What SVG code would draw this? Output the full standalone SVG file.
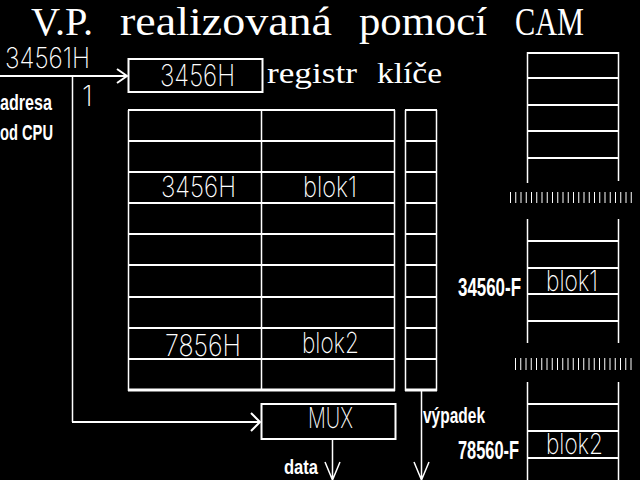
<svg xmlns="http://www.w3.org/2000/svg" width="640" height="480" viewBox="0 0 640 480">
<style>
.bg{fill:#000}
.ln{stroke:#fff;fill:none}
.h{stroke-width:2}
.v{stroke-width:1.5}
.thin{font-family:Inter,"DejaVu Sans",sans-serif;font-weight:200;fill:#fff}
.nar{font-family:"Liberation Sans",Arial,sans-serif;font-weight:bold;fill:#fff}
.ser{font-family:"Liberation Serif","Times New Roman",serif;fill:#fff}
</style>
<rect class="bg" x="0" y="0" width="640" height="480"/>
<g id="title">
<text class="ser" x="31" y="35" font-size="39" textLength="62" lengthAdjust="spacingAndGlyphs">V.P.</text>
<text class="ser" x="120" y="35" font-size="39" textLength="212" lengthAdjust="spacingAndGlyphs">realizovaná</text>
<text class="ser" x="359" y="35" font-size="39" textLength="128" lengthAdjust="spacingAndGlyphs">pomocí</text>
<text class="ser" x="515" y="35" font-size="39" textLength="69" lengthAdjust="spacingAndGlyphs">CAM</text>
</g>
<g id="input-labels">
<text class="thin" x="5" y="68" font-size="28" textLength="85" lengthAdjust="spacingAndGlyphs">34561H</text>
<text class="thin" x="82" y="106" font-size="28">1</text>
<text class="nar" x="0" y="110" font-size="22" textLength="52" lengthAdjust="spacingAndGlyphs">adresa</text>
<text class="nar" x="0" y="140" font-size="22" textLength="53" lengthAdjust="spacingAndGlyphs">od CPU</text>
</g>
<g id="register">
<rect class="ln" x="128.5" y="59" width="134" height="33" stroke-width="2"/>
<text class="thin" x="160" y="86" font-size="30" textLength="75" lengthAdjust="spacingAndGlyphs">3456H</text>
<text class="ser" x="267" y="83" font-size="30" textLength="90" lengthAdjust="spacingAndGlyphs">registr</text>
<text class="ser" x="377" y="83" font-size="30" textLength="65" lengthAdjust="spacingAndGlyphs">klíče</text>
</g>
<g id="cam-table">
<path class="ln h" d="M128 110H395M128 141H395M128 172H395M128 203H395M128 234H395M128 265H395M128 297H395M128 328H395M128 359H395"/>
<path class="ln" stroke-width="3" d="M128 390H395"/>
<path class="ln v" d="M128.5 110V391M261.5 110V391M394.5 110V391"/>
<text class="thin" x="161" y="197" font-size="29" textLength="75" lengthAdjust="spacingAndGlyphs">3456H</text>
<text class="thin" x="303" y="197" font-size="29" textLength="54" lengthAdjust="spacingAndGlyphs">blok1</text>
<text class="thin" x="165" y="356" font-size="30" textLength="76" lengthAdjust="spacingAndGlyphs">7856H</text>
<text class="thin" x="302" y="353" font-size="29" textLength="57" lengthAdjust="spacingAndGlyphs">blok2</text>
</g>
<g id="valid-column">
<path class="ln h" d="M405 110H437M405 141H437M405 172H437M405 203H437M405 234H437M405 265H437M405 297H437M405 328H437M405 359H437"/>
<path class="ln" stroke-width="3" d="M405 390H437"/>
<path class="ln v" d="M405.5 110V391M436.5 110V391"/>
</g>
<g id="mux">
<rect class="ln" x="261.5" y="404" width="134" height="35" stroke-width="2"/>
<text class="thin" x="308" y="428" font-size="29" textLength="45" lengthAdjust="spacingAndGlyphs">MUX</text>
</g>
<g id="memory">
<path class="ln v" d="M527.5 52V183M618.5 52V181M527.5 219V343M618.5 219V343M527.5 382V480M618.5 382V480"/>
<path class="ln h" d="M527 53H619M527 78H619M527 105H619M527 131H619M527 158H619M527 241H619M527 268H619M527 294H619M527 321H619M527 404H619M527 431H619M527 458H619"/>
<path class="ln" stroke-width="11" stroke-dasharray="1 4.25" d="M510 197.5H633"/>
<path class="ln" stroke-width="12" stroke-dasharray="1 4.25" d="M515 364H633"/>
<text class="thin" x="546" y="291" font-size="29" textLength="52" lengthAdjust="spacingAndGlyphs">blok1</text>
<text class="thin" x="546" y="454" font-size="28" textLength="57" lengthAdjust="spacingAndGlyphs">blok2</text>
<text class="nar" x="458" y="296" font-size="25" textLength="63" lengthAdjust="spacingAndGlyphs">34560-F</text>
<text class="nar" x="458" y="459" font-size="25" textLength="61" lengthAdjust="spacingAndGlyphs">78560-F</text>
</g>
<g id="connectors">
<path class="ln" stroke-width="2" d="M0 76H127"/>
<path class="ln" stroke-width="2" d="M117 69L127 76L117 83"/>
<path class="ln v" d="M72.5 76V422"/>
<path class="ln" stroke-width="2" d="M72 422H260"/>
<path class="ln" stroke-width="2" d="M251 413L260 422L251 431"/>
<path class="ln v" d="M332.5 440V480M325 462L332.5 480L340 462"/>
<path class="ln v" d="M421.5 391V480M414 462L421.5 480L429 462"/>
<text class="nar" x="284" y="474" font-size="20" textLength="34" lengthAdjust="spacingAndGlyphs">data</text>
<text class="nar" x="423" y="423" font-size="22" textLength="62" lengthAdjust="spacingAndGlyphs">výpadek</text>
</g>
</svg>
